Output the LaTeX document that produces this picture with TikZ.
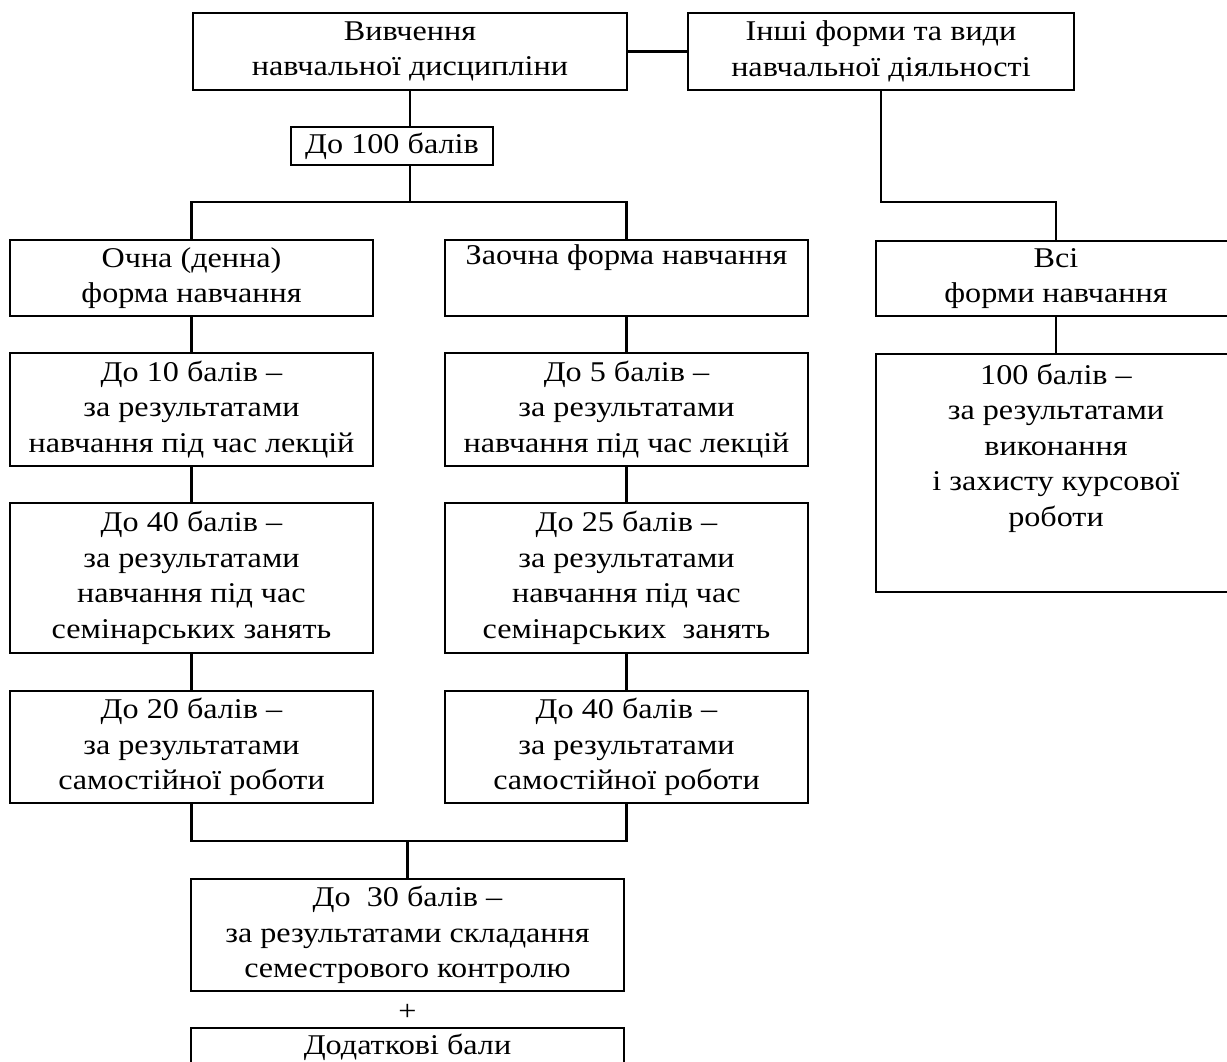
\documentclass[tikz,border=0pt]{standalone}
\usepackage{fontspec}
\setmainfont{Liberation Serif}[FakeStretch=1.125]
\usepackage{tikz}

\newcommand{\tekst}{\fontsize{14.3}{17.75}\selectfont}

\begin{document}
\begin{tikzpicture}[
  x=0.5pt, y=-0.5pt,
  blok/.style={
    rectangle,
    draw,
    line width=1.4pt,
    align=center,
    inner sep=0pt,
    minimum width=181.5pt,
    font=\tekst
  },
  liniya/.style={line width=1.4pt}
]

\useasboundingbox (0,0) rectangle (1227,1061);

% Верхній рівень
\node[blok, minimum width=217pt, minimum height=38.5pt] (vyvch) at (410, 51.5) {%
  Вивчення\\
  навчальної дисципліни
};
\node[blok, minimum width=193pt, minimum height=38.5pt] (inshi) at (881, 51.5) {%
  Інші форми та види\\
  навчальної діяльності
};
\node[blok, minimum width=101pt, minimum height=19pt] (do100) at (392, 146) {До 100 балів};

% Форми навчання
\node[blok, minimum height=38pt] (ochna) at (191.5, 278) {%
  Очна (денна)\\
  форма навчання
};
\node[blok, minimum height=38pt] (zaochna) at (626.5, 278) {%
  Заочна форма навчання\\
  \strut
};
\node[blok, minimum width=180pt, minimum height=37.5pt] (vsi) at (1056, 278.5) {%
  Всі\\
  форми навчання
};

% Лекції
\node[blok, minimum height=56.5pt] (lek1) at (191.5, 409.5) {%
  До 10 балів –\\
  за результатами\\
  навчання під час лекцій
};
\node[blok, minimum height=56.5pt] (lek2) at (626.5, 409.5) {%
  До 5 балів –\\
  за результатами\\
  навчання під час лекцій
};

% Семінарські заняття
\node[blok, minimum height=75pt] (sem1) at (191.5, 578) {%
  До 40 балів –\\
  за результатами\\
  навчання під час\\
  семінарських занять
};
\node[blok, minimum height=75pt] (sem2) at (626.5, 578) {%
  До 25 балів –\\
  за результатами\\
  навчання під час\\
  семінарських~ занять
};

% Самостійна робота
\node[blok, minimum height=56pt] (sam1) at (191.5, 747) {%
  До 20 балів –\\
  за результатами\\
  самостійної роботи
};
\node[blok, minimum height=56pt] (sam2) at (626.5, 747) {%
  До 40 балів –\\
  за результатами\\
  самостійної роботи
};

% Курсова робота
\node[blok, minimum width=180pt, minimum height=119pt] (kursova) at (1056, 473) {%
  100 балів –\\
  за результатами\\
  виконання\\
  і захисту курсової\\
  роботи\\[5pt]
  \strut
};

% Семестровий контроль
\node[blok, minimum width=216.5pt, minimum height=56pt] (kontrol) at (407.5, 935) {%
  До~ 30 балів –\\
  за результатами складання\\
  семестрового контролю
};
\node[font=\tekst, inner sep=0pt] (plyus) at (407.5, 1012) {+};
\node[blok, minimum width=216.5pt, minimum height=19pt] (dod) at (407.5, 1047) {Додаткові бали};

% Зв'язки
\coordinate (rozg) at (410, 202);
\coordinate (zbir) at (407.5, 841);
\draw[liniya] (vyvch) -- (inshi);
\draw[liniya] (vyvch.south) -- (vyvch.south |- do100.north);
\draw[liniya] (vyvch.south |- do100.south) -- (rozg);
\draw[liniya] (ochna.north) |- (rozg) -| (zaochna.north);
\draw[liniya] (inshi.south) -- (inshi.south |- rozg) -| (vsi.north);
\draw[liniya] (vsi) -- (kursova);
\draw[liniya] (ochna) -- (lek1);
\draw[liniya] (lek1) -- (sem1);
\draw[liniya] (sem1) -- (sam1);
\draw[liniya] (zaochna) -- (lek2);
\draw[liniya] (lek2) -- (sem2);
\draw[liniya] (sem2) -- (sam2);
\draw[liniya] (sam1.south) |- (zbir) -| (sam2.south);
\draw[liniya] (zbir) -- (kontrol.north);

\end{tikzpicture}
\end{document}
